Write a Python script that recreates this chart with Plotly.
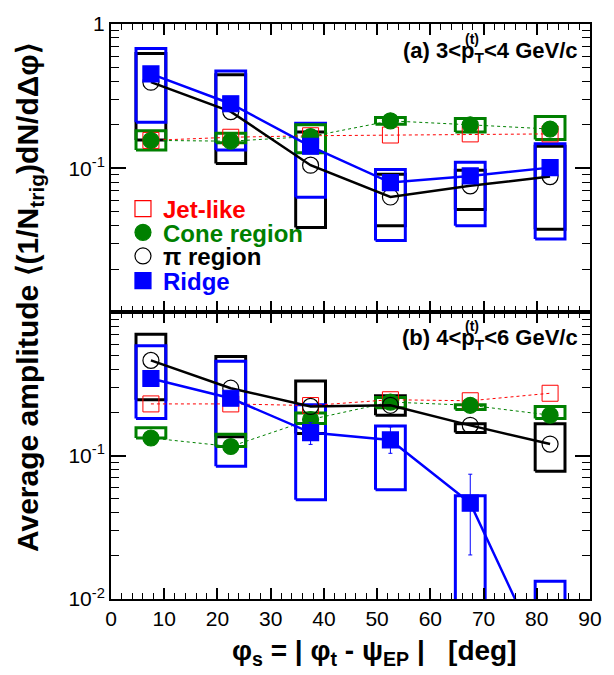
import plotly.graph_objects as go
from plotly.subplots import make_subplots

# --- event-plane bins (deg) ---
phi_s = [7.5, 22.5, 37.5, 52.5, 67.5, 82.5]
box_half = 2.8

# --- (a) 3 < pT(trig) < 4 GeV/c ---
jet_a = [0.156, 0.164, 0.168, 0.170, 0.173, 0.173]
cone_a = [0.156, 0.154, 0.166, 0.213, 0.200, 0.187]
cone_a_lo = [0.134, 0.150, 0.128, 0.202, 0.178, 0.158]
cone_a_hi = [0.182, 0.175, 0.200, 0.225, 0.221, 0.228]
pi_a = [0.395, 0.247, 0.105, 0.0632, 0.0755, 0.0875]
pi_a_lo = [0.157, 0.108, 0.0388, 0.040, 0.0518, 0.0378]
pi_a_hi = [0.624, 0.444, 0.178, 0.091, 0.097, 0.142]
ridge_a = [0.451, 0.280, 0.142, 0.0796, 0.0885, 0.101]
ridge_a_lo = [0.208, 0.134, 0.063, 0.0315, 0.040, 0.0323]
ridge_a_hi = [0.675, 0.473, 0.205, 0.098, 0.110, 0.148]

# --- (b) 4 < pT(trig) < 6 GeV/c ---
jet_b = [0.230, 0.230, 0.224, 0.246, 0.242, 0.273]
cone_b = [0.133, 0.116, 0.179, 0.237, 0.225, 0.192]
cone_b_lo = [0.133, 0.116, 0.168, 0.216, 0.210, 0.182]
cone_b_hi = [0.157, 0.141, 0.199, 0.255, 0.227, 0.221]
pi_b = [0.463, 0.296, 0.221, 0.225, 0.163, 0.1206]
pi_b_lo = [0.246, 0.1355, 0.143, 0.192, 0.145, 0.078]
pi_b_hi = [0.706, 0.493, 0.332, 0.262, 0.167, 0.167]
ridge_b = [0.346, 0.252, 0.145, 0.129, 0.0467, 0.003]
ridge_b_err_lo = [0.346, 0.252, 0.120, 0.104, 0.0203, 0.003]
ridge_b_err_hi = [0.346, 0.252, 0.170, 0.159, 0.0743, 0.003]
ridge_b_lo = [0.182, 0.0843, 0.0492, 0.058, 0.005, 0.001]
ridge_b_hi = [0.587, 0.456, 0.227, 0.161, 0.0525, 0.0133]

y_ticktext = ["10<sup>-2</sup>", "10<sup>-1</sup>", "1"]

RED, GREEN, BLACK, BLUE = "#ff0000", "#008000", "#000000", "#0000ff"
FONT = "Liberation Sans, Arial, Helvetica, sans-serif"

fig = make_subplots(rows=2, cols=1, shared_xaxes=True, vertical_spacing=0,
                    row_heights=[0.5017, 0.4983])


def sys_boxes(x, lo, hi):
    xs, ys = [], []
    for xc, l, h in zip(x, lo, hi):
        xs += [xc - box_half, xc + box_half, xc + box_half, xc - box_half, xc - box_half, None]
        ys += [l, l, h, h, l, None]
    return xs, ys


def add_boxes(lo, hi, color, row):
    xs, ys = sys_boxes(phi_s, lo, hi)
    fig.add_trace(go.Scatter(x=xs, y=ys, mode="lines", line=dict(color=color, width=3),
                             showlegend=False, hoverinfo="skip"), row=row, col=1)


def add_series(y, color, symbol, size, dash, width, row, err=None, mline=1.2):
    fig.add_trace(go.Scatter(
        x=phi_s, y=y, mode="lines+markers",
        line=dict(color=color, width=width, dash=dash),
        marker=dict(color=color, symbol=symbol, size=size, line=dict(color=color, width=mline)),
        error_y=err, showlegend=False), row=row, col=1)


for row, d in ((1, dict(jet=jet_a, cone=cone_a, clo=cone_a_lo, chi=cone_a_hi,
                        pi=pi_a, plo=pi_a_lo, phi=pi_a_hi,
                        ridge=ridge_a, rlo=ridge_a_lo, rhi=ridge_a_hi, rerr=None)),
               (2, dict(jet=jet_b, cone=cone_b, clo=cone_b_lo, chi=cone_b_hi,
                        pi=pi_b, plo=pi_b_lo, phi=pi_b_hi,
                        ridge=ridge_b, rlo=ridge_b_lo, rhi=ridge_b_hi,
                        rerr=dict(type="data", symmetric=False,
                                  array=[h - v for h, v in zip(ridge_b_err_hi, ridge_b)],
                                  arrayminus=[v - l for v, l in zip(ridge_b, ridge_b_err_lo)],
                                  color=BLUE, thickness=1, width=2)))):
    add_boxes(d["plo"], d["phi"], BLACK, row)
    add_boxes(d["rlo"], d["rhi"], BLUE, row)
    add_boxes(d["clo"], d["chi"], GREEN, row)
    add_series(d["jet"], RED, "square-open", 16, "3px,3px", 1, row, mline=1)
    add_series(d["cone"], GREEN, "circle", 16, "3px,3px", 1, row)
    add_series(d["pi"], BLACK, "circle-open", 16, "solid", 2.5, row, mline=1.2)
    add_series(d["ridge"], BLUE, "square", 16, "solid", 2.5, row, err=d["rerr"])

# legend entries, each in its own legend box so rows can be spaced tightly
legend_items = [
    ("Jet-like", RED, "square-open", "legend"),
    ("Cone region", GREEN, "circle", "legend2"),
    ("π region", BLACK, "circle-open", "legend3"),
    ("Ridge", BLUE, "square", "legend4"),
]
for name, color, symbol, lg in legend_items:
    fig.add_trace(go.Scatter(
        x=[None], y=[None], mode="markers", name=f'<span style="color:{color}"><b>{name}</b></span>',
        marker=dict(color=color, symbol=symbol, size=16, line=dict(color=color, width=1.2)),
        legend=lg, showlegend=True), row=1, col=1)

legend_centers = [203, 227, 251, 276]
plot_top, plot_h = 15, 584
legend_common = dict(x=0.025, xanchor="left", yanchor="middle", bgcolor="rgba(0,0,0,0)",
                     font=dict(family=FONT, size=24, color=BLACK), borderwidth=0)
fig.update_layout(**{
    ("legend" if i == 0 else f"legend{i + 1}"): dict(
        legend_common, y=1 - (c - plot_top) / plot_h)
    for i, c in enumerate(legend_centers)
})

axis_common = dict(showline=True, linecolor=BLACK, linewidth=2, mirror="allticks",
                   ticks="inside", tickcolor=BLACK, showgrid=False, zeroline=False,
                   tickfont=dict(family=FONT, size=21, color=BLACK))
minor_x = dict(dtick=2, ticks="inside", ticklen=6, tickwidth=1.2, tickcolor=BLACK, showgrid=False)
minor_y_vals = [m * 10 ** e for e in (-2, -1) for m in range(2, 10)]
minor_y = dict(tickvals=minor_y_vals, ticks="inside", ticklen=8, tickwidth=1.2,
               tickcolor=BLACK, showgrid=False)

for r in (1, 2):
    fig.update_xaxes(axis_common, range=[0, 90], tick0=0, dtick=10, ticklen=11, tickwidth=1.5,
                     minor=minor_x, showticklabels=(r == 2), row=r, col=1)

fig.update_yaxes(axis_common, type="log", range=[-2, 0], tickvals=[0.1, 1],
                 ticktext=y_ticktext[1:], ticklen=15, tickwidth=1.5, minor=minor_y, row=1, col=1)
fig.update_yaxes(axis_common, type="log", range=[-2, 0], tickvals=[0.01, 0.1],
                 ticktext=y_ticktext[:2], ticklen=15, tickwidth=1.5, minor=minor_y, row=2, col=1)


def py(px):
    return 1 - (px - plot_top) / plot_h


def pxx(px):
    return (px - 111) / 487


NB = "\u00a0"
annotations = [
    dict(text="<b>(a) 3&lt;p<sub>T</sub>&lt;4 GeV/c</b>", x=pxx(588), y=py(43),
         xanchor="right", yanchor="middle", font=dict(size=22)),
    dict(text="<b>(t)</b>", x=pxx(478), y=py(30), xanchor="center", yanchor="middle",
         font=dict(size=14)),
    dict(text="<b>(b) 4&lt;p<sub>T</sub>&lt;6 GeV/c</b>", x=pxx(588), y=py(335),
         xanchor="right", yanchor="middle", font=dict(size=22)),
    dict(text="<b>(t)</b>", x=pxx(478), y=py(322), xanchor="center", yanchor="middle",
         font=dict(size=14)),
    dict(text="<b>Average amplitude ⟨(1/N<sub>trig</sub>)dN/dΔφ⟩</b>", x=pxx(28), y=py(292),
         xanchor="center", yanchor="middle", textangle=-90, font=dict(size=30)),
    dict(text=f"<b>φ<sub>s</sub> = | φ<sub>t</sub> - ψ<sub>EP</sub> |{NB}{NB}{NB}[deg]</b>",
         x=pxx(379), y=py(653), xanchor="center", yanchor="middle", font=dict(size=28)),
]
for a in annotations:
    a.update(xref="paper", yref="paper", showarrow=False)
    a["font"] = dict(family=FONT, color=BLACK, **a["font"])

fig.update_layout(
    width=614, height=675,
    margin=dict(l=111, r=16, t=15, b=76),
    paper_bgcolor="white", plot_bgcolor="white",
    annotations=annotations,
    font=dict(family=FONT, color=BLACK),
)

fig.write_html("out.html")
